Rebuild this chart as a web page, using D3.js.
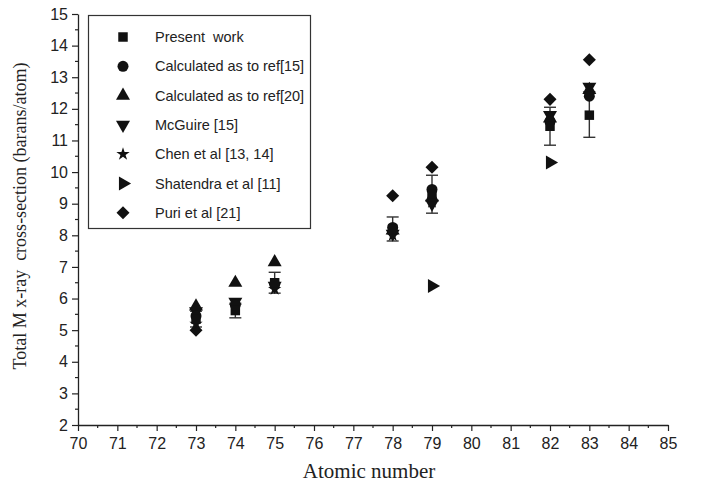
<!DOCTYPE html>
<html>
<head>
<meta charset="utf-8">
<script src="https://cdn.jsdelivr.net/npm/d3@7"></script>
<style>
  body { margin: 0; background: #fff; }
  svg { display: block; }
</style>
</head>
<body>
<script>
// data
var atomicNumbers = [73, 74, 75, 78, 79, 82, 83];
var presentWork = [5.35, 5.62, 6.5, 8.2, 9.3, 11.45, 11.8];
var presentErr = [0.25, 0.23, 0.33, 0.38, 0.6, 0.6, 0.7];
var calcRef15 = [5.45, 5.8, 6.45, 8.25, 9.45, 11.6, 12.4];
var calcRef20 = [5.75, 6.5, 7.15, 8.15, 9.2, 11.7, 12.6];
var mcGuire = [5.6, 5.9, 6.4, 8.05, 9.0, 11.8, 12.7];
var chen = [5.2, 5.75, 6.3, 8.0, 9.05, 11.55, 12.5];
var shatendra = [null, null, null, null, 6.4, 10.3, null];
var puri = [5.0, null, null, 9.25, 10.15, 12.3, 13.55];

var xTicks = d3.range(70, 86, 1);
var yTicks = d3.range(2, 16, 1);

var legendLabels = ["Present\u00a0 work", "Calculated as to ref[15]", "Calculated as to ref[20]",
    "McGuire [15]", "Chen et al [13, 14]", "Shatendra et al [11]", "Puri et al [21]"];

var width = 708, height = 488;
var ink = "#111";

var svg = d3.select("body").append("svg")
    .attr("width", width)
    .attr("height", height);

var x = d3.scaleLinear().domain([70, 85]).range([78, 668]);
var y = d3.scaleLinear().domain([2, 15]).range([425, 14]);

// axes
var xAxis = d3.axisBottom(x).tickValues(xTicks).tickFormat(d3.format("d")).tickSize(6).tickSizeOuter(0);
var yAxis = d3.axisLeft(y).tickValues(yTicks).tickFormat(d3.format("d")).tickSize(6).tickSizeOuter(0);

var gx = svg.append("g").attr("transform", "translate(0," + y(2) + ")").call(xAxis);
var gy = svg.append("g").attr("transform", "translate(" + x(70) + ",0)").call(yAxis);

[gx, gy].forEach(function (g) {
    g.select(".domain").attr("stroke", "#222").attr("stroke-width", 1.3);
    g.selectAll(".tick line").attr("stroke", "#222").attr("stroke-width", 1.2);
    g.selectAll(".tick text")
        .attr("font-family", "Liberation Sans, Arial, sans-serif")
        .attr("font-size", "16px")
        .attr("fill", "#222");
});
gx.selectAll(".tick text").attr("dy", "0.95em");
gy.selectAll(".tick text").attr("dx", "-1px");

// minor ticks
var xMinor = d3.range(70.5, 85, 1);
var yMinor = d3.range(2.5, 15, 1);
svg.append("g").selectAll("line").data(xMinor).join("line")
    .attr("x1", function (d) { return x(d); }).attr("x2", function (d) { return x(d); })
    .attr("y1", y(2)).attr("y2", y(2) + 3)
    .attr("stroke", "#222").attr("stroke-width", 1.2);
svg.append("g").selectAll("line").data(yMinor).join("line")
    .attr("y1", function (d) { return y(d); }).attr("y2", function (d) { return y(d); })
    .attr("x1", x(70)).attr("x2", x(70) - 3)
    .attr("stroke", "#222").attr("stroke-width", 1.2);

// axis titles
svg.append("text")
    .attr("x", x(77.4)).attr("y", 478)
    .attr("text-anchor", "middle")
    .attr("font-family", "Liberation Serif, Times New Roman, serif")
    .attr("font-size", "21px").attr("fill", "#222")
    .text("Atomic number");

svg.append("text")
    .attr("transform", "translate(26," + 216 + ") rotate(-90)")
    .attr("text-anchor", "middle")
    .attr("font-family", "Liberation Serif, Times New Roman, serif")
    .attr("font-size", "18px").attr("fill", "#222")
    .style("white-space", "pre")
    .text("Total M x-ray  cross-section (barans/atom)");

// marker shapes
var markers = [
    { type: d3.symbolSquare, size: 90, rot: 0 },
    { type: d3.symbolCircle, size: 95, rot: 0 },
    { type: d3.symbolTriangle, size: 85, rot: 0 },
    { type: d3.symbolTriangle, size: 85, rot: 180 },
    { type: d3.symbolStar, size: 55, rot: 0 },
    { type: d3.symbolTriangle, size: 85, rot: 90 },
    { type: d3.symbolSquare, size: 85, rot: 45 }
];
var seriesValues = [presentWork, calcRef15, calcRef20, mcGuire, chen, shatendra, puri];

function symbolPath(m) {
    return d3.symbol().type(m.type).size(m.size)();
}

// error bars for present work
var errG = svg.append("g");
atomicNumbers.forEach(function (z, i) {
    var cx = x(z), lo = y(presentWork[i] - presentErr[i]), hi = y(presentWork[i] + presentErr[i]);
    errG.append("line").attr("x1", cx).attr("x2", cx).attr("y1", lo).attr("y2", hi)
        .attr("stroke", "#333").attr("stroke-width", 1.4);
    [lo, hi].forEach(function (yy) {
        errG.append("line").attr("x1", cx - 6).attr("x2", cx + 6).attr("y1", yy).attr("y2", yy)
            .attr("stroke", "#333").attr("stroke-width", 1.4);
    });
});

// points
var order = [6, 5, 4, 3, 2, 1, 0];
order.forEach(function (s) {
    var m = markers[s];
    var pts = atomicNumbers.map(function (z, i) { return { z: z, v: seriesValues[s][i] }; })
        .filter(function (d) { return d.v != null; });
    svg.append("g").selectAll("path").data(pts).join("path")
        .attr("d", symbolPath(m))
        .attr("transform", function (d) {
            return "translate(" + x(d.z) + "," + y(d.v) + ") rotate(" + m.rot + ")";
        })
        .attr("fill", ink);
});

// legend
var lg = svg.append("g");
lg.append("rect")
    .attr("x", 88.5).attr("y", 15.5).attr("width", 222).attr("height", 213)
    .attr("fill", "#fff").attr("stroke", "#333").attr("stroke-width", 1.2);
legendLabels.forEach(function (lab, i) {
    var ly = 37 + i * 29.3;
    var m = markers[i];
    lg.append("path")
        .attr("d", symbolPath(m))
        .attr("transform", "translate(123," + ly + ") rotate(" + m.rot + ")")
        .attr("fill", ink);
    lg.append("text")
        .attr("x", 155).attr("y", ly + 5)
        .attr("font-family", "Liberation Sans, Arial, sans-serif")
        .attr("font-size", "14.5px").attr("fill", "#222")
        .text(lab);
});
</script>
</body>
</html>
